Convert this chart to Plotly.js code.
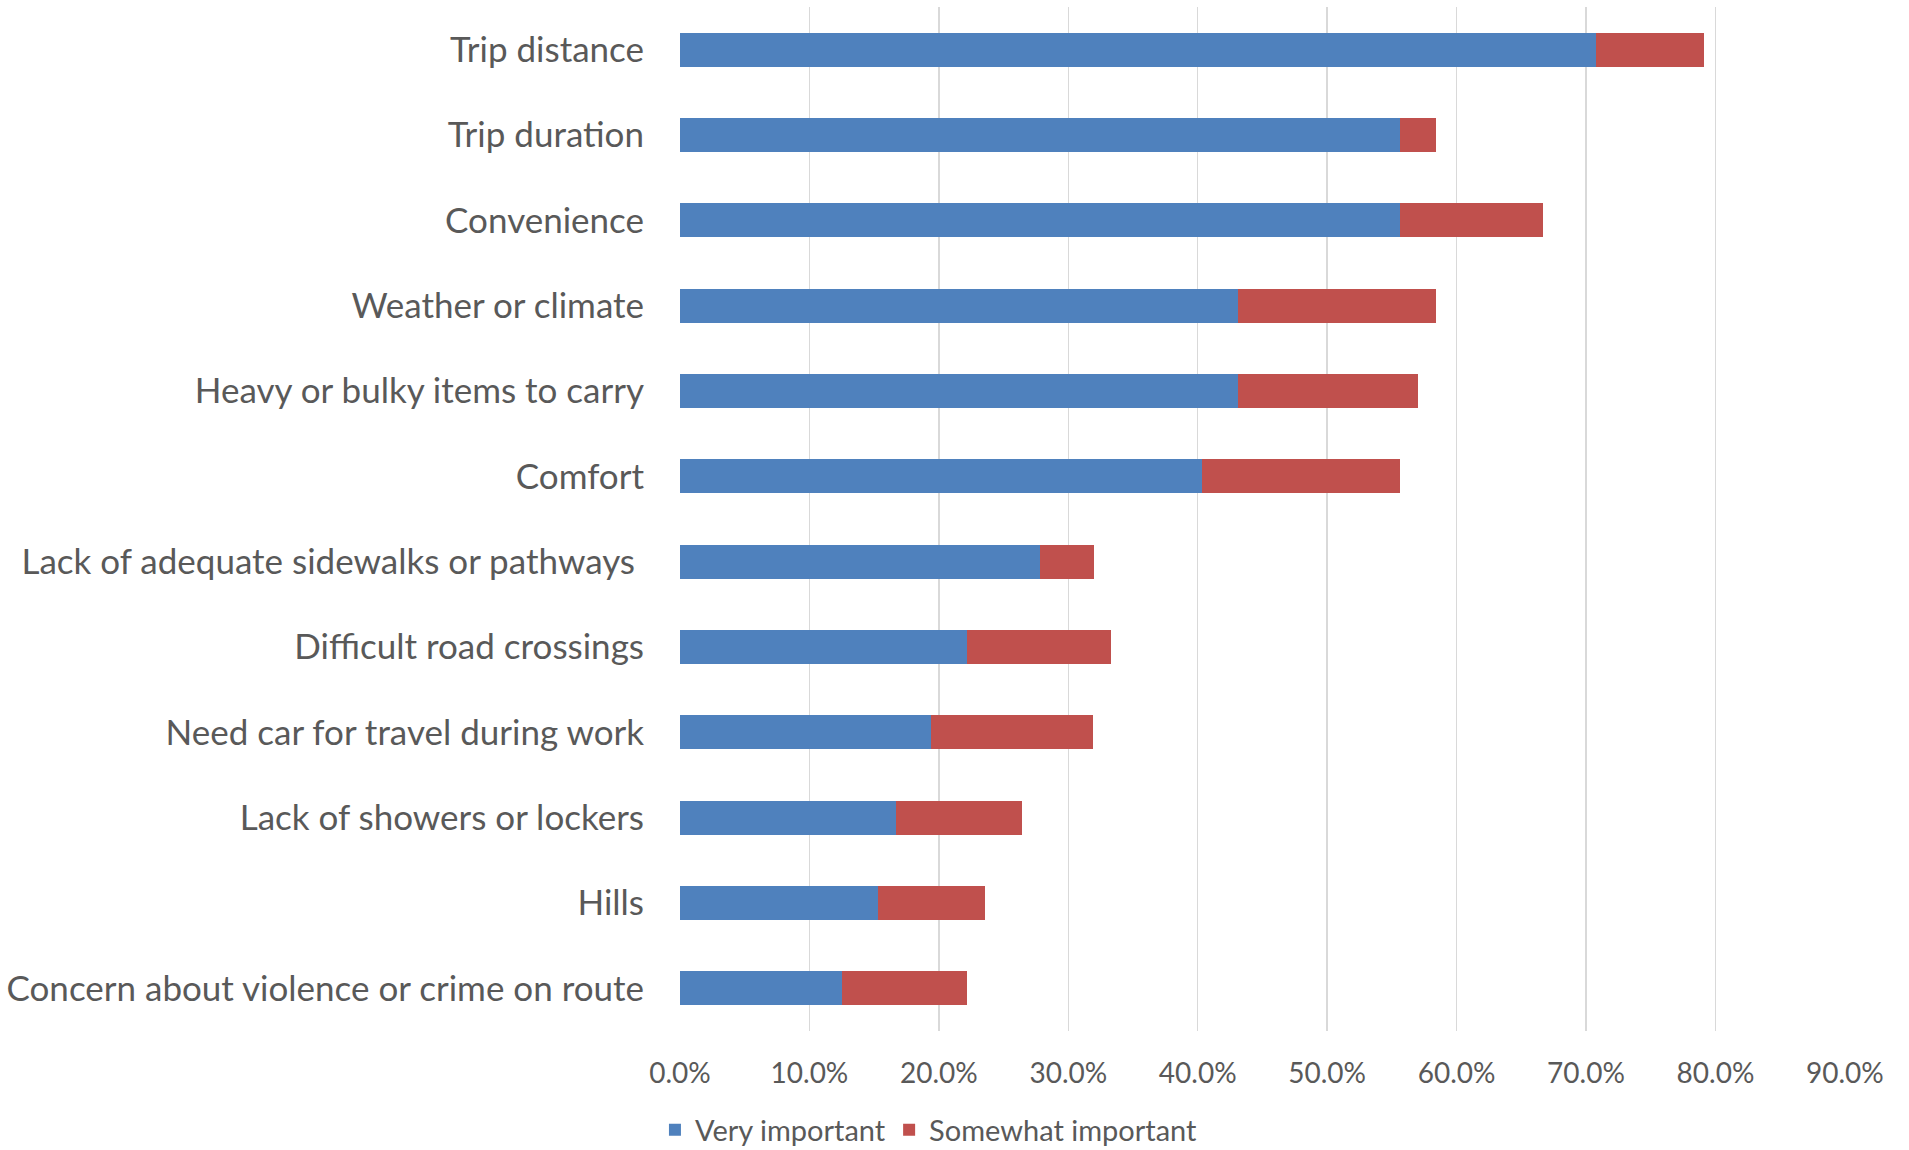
<!DOCTYPE html>
<html>
<head>
<meta charset="utf-8">
<script src="https://cdn.plot.ly/plotly-3.0.1.min.js"></script>
<style>html,body{margin:0;padding:0;background:#fff;}#chart{width:1909px;height:1150px;}</style>
</head>
<body>
<div id="chart"></div>
<script>
const categories = [
  "Trip distance",
  "Trip duration",
  "Convenience",
  "Weather or climate",
  "Heavy or bulky items to carry",
  "Comfort",
  "Lack of adequate sidewalks or pathways\u00a0",
  "Difficult road crossings",
  "Need car for travel during work",
  "Lack of showers or lockers",
  "Hills",
  "Concern about violence or crime on route"
];
const veryImportant = [0.708, 0.556, 0.556, 0.431, 0.431, 0.403, 0.278, 0.222, 0.194, 0.167, 0.153, 0.125];
const somewhatImportant = [0.083, 0.028, 0.111, 0.153, 0.139, 0.153, 0.042, 0.111, 0.125, 0.097, 0.083, 0.097];
const xTicks = [0, 0.1, 0.2, 0.3, 0.4, 0.5, 0.6, 0.7, 0.8, 0.9];

const FONT = "Lato, 'Open Sans', sans-serif";
const TXT = "#595959";

const data = [
  {type: "bar", orientation: "h", name: "Very important", y: categories, x: veryImportant,
   marker: {color: "#4F81BD"}, hoverinfo: "x+y", legend: "legend"},
  {type: "bar", orientation: "h", name: "Somewhat important", y: categories, x: somewhatImportant,
   marker: {color: "#C0504D"}, hoverinfo: "x+y", legend: "legend2"}
];

const legendCommon = {
  orientation: "h", xanchor: "left", yanchor: "middle", y: -0.0965,
  font: {family: FONT, size: 29, color: TXT},
  bgcolor: "rgba(0,0,0,0)", itemclick: false, itemdoubleclick: false
};

const layout = {
  width: 1909, height: 1150,
  paper_bgcolor: "#ffffff", plot_bgcolor: "#ffffff",
  barmode: "stack", bargap: 0.6,
  margin: {l: 680, r: 64, t: 7, b: 119, pad: 0, autoexpand: false},
  font: {family: FONT, color: TXT},
  xaxis: {
    range: [0, 0.9001], tickvals: xTicks, tickformat: ".1%",
    showgrid: true, gridcolor: "#d9d9d9", gridwidth: 1.5,
    zeroline: false, showline: false, ticks: "",
    tickfont: {family: FONT, size: 28, color: TXT},
    ticklabelstandoff: 23, fixedrange: true, automargin: false
  },
  yaxis: {
    type: "category", autorange: "reversed",
    showgrid: false, zeroline: false, showline: false, ticks: "",
    tickfont: {family: FONT, size: 35, color: TXT},
    ticklabelstandoff: 35, fixedrange: true, automargin: false
  },
  showlegend: true,
  legend: Object.assign({}, legendCommon, {x: -0.0215}),
  legend2: Object.assign({}, legendCommon, {x: 0.1795})
};

Plotly.newPlot("chart", data, layout, {displayModeBar: false, staticPlot: true});
</script>
</body>
</html>
